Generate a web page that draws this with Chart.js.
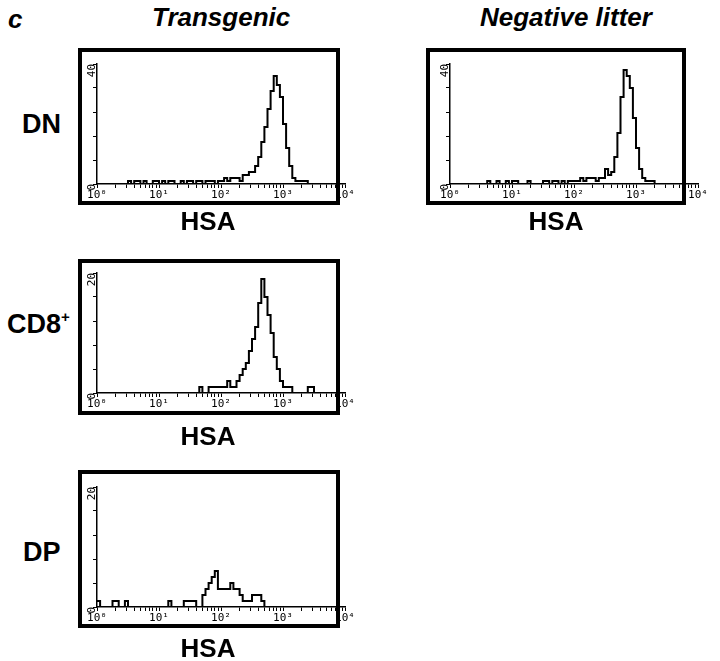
<!DOCTYPE html>
<html>
<head>
<meta charset="utf-8">
<script src="https://cdn.jsdelivr.net/npm/chart.js@4"></script>
<style>
  body { margin: 0; background: #fff; width: 720px; height: 661px; position: relative; overflow: hidden;
         font-family: "Liberation Sans", Arial, sans-serif; }
  .t { position: absolute; font-weight: bold; color: #000; white-space: nowrap; line-height: 1; }
  .it { font-style: italic; font-size: 26px; }
  .row { font-size: 27px; }
  .hsa { font-size: 26px; width: 120px; text-align: center; }
  .box { position: absolute; border: 4px solid #000; box-sizing: border-box; pointer-events: none; }
  canvas { position: absolute; }
</style>
</head>
<body>
<div class="t it" style="left:8px;top:6px">c</div>
<div class="t it" style="left:152px;top:4px">Transgenic</div>
<div class="t it" style="left:480px;top:4px">Negative litter</div>

<div class="t row" style="left:22px;top:111px">DN</div>
<div class="t row" style="left:7px;top:309px">CD8<sup style="font-size:15px;vertical-align:11px">+</sup></div>
<div class="t row" style="left:23px;top:539px">DP</div>

<canvas id="p1" width="290" height="170" style="left:78px;top:48px"></canvas>
<canvas id="p2" width="290" height="170" style="left:431px;top:48px"></canvas>
<canvas id="p3" width="290" height="170" style="left:78px;top:257px"></canvas>
<canvas id="p4" width="290" height="170" style="left:78px;top:471px"></canvas>

<div class="box" style="left:78px;top:48px;width:262px;height:157px"></div>
<div class="box" style="left:426px;top:48px;width:260px;height:157px"></div>
<div class="box" style="left:78px;top:259px;width:262px;height:156px"></div>
<div class="box" style="left:78px;top:470px;width:262px;height:158px"></div>

<div class="t hsa" style="left:148px;top:208px">HSA</div>
<div class="t hsa" style="left:496px;top:208px">HSA</div>
<div class="t hsa" style="left:148px;top:423px">HSA</div>
<div class="t hsa" style="left:148px;top:635px">HSA</div>

<script>
// x axis: 4 decades of HSA fluorescence, one channel = 0.05 decade
const decadeLabels = ['10⁰', '10¹', '10²', '10³', '10⁴'];
const binWidth = 0.05;

// cell counts per channel (81 channel edges, 0 .. 4 decades)
const dnTransgenic = [
  0,0,0,0,0,0,0,0,0,0,
  1,0,1,1,0,1,0,0,1,1,
  0,1,0,1,1,0,0,1,0,1,
  1,0,1,1,0,1,1,1,0,1,
  1,2,1,2,2,2,1,3,3,4,
  4,6,9,14,19,25,31,36,33,29,
  20,12,6,2,1,1,1,1,0,0,
  0,0,0,0,0,0,0,0,0,0,0
];
const dnNegative = [
  0,0,0,0,0,0,0,0,0,0,
  0,0,1,0,0,1,0,0,1,0,
  1,1,0,0,0,1,0,0,0,0,
  1,1,0,1,1,0,1,0,1,1,
  1,1,2,1,2,2,2,1,2,2,
  5,3,4,9,17,29,38,36,32,22,
  12,5,2,1,1,1,0,0,0,0,
  0,0,0,0,0,0,0,0,0,0,0
];
const cd8Transgenic = [
  0,0,0,0,0,0,0,0,0,0,
  0,0,0,0,0,0,0,0,0,0,
  0,0,0,0,0,0,0,0,0,0,
  0,0,0,1,0,0,1,1,1,1,
  1,1,2,1,1,2,3,4,5,7,
  9,11,15,19,16,13,10,6,4,2,
  1,1,1,0,0,0,0,0,1,1,
  0,0,0,0,0,0,0,0,0,0,0
];
const dpTransgenic = [
  1,0,0,0,0,1,1,0,0,1,
  0,0,0,0,0,0,0,0,0,0,
  0,0,0,1,0,0,0,0,1,1,
  1,1,0,0,2,3,4,5,6,3,
  3,3,3,4,3,3,2,1,1,1,
  2,2,2,1,0,0,0,0,0,0,
  0,0,0,0,0,0,0,0,0,0,
  0,0,0,0,0,0,0,0,0,0,0
];

// minor log ticks 1..9 in each decade
const logTicks = [];
for (let d = 0; d < 4; d++) {
  for (let k = 1; k < 10; k++) logTicks.push(d + Math.log10(k));
}
logTicks.push(4);

const mono = { family: 'DejaVu Sans Mono', size: 11 };

function histogram(id, counts, yMax) {
  const pts = counts.map((c, i) => ({ x: i * binWidth, y: c }));
  return new Chart(document.getElementById(id), {
    type: 'line',
    data: {
      datasets: [{
        data: pts,
        stepped: true,
        borderColor: '#000',
        borderWidth: 2,
        pointRadius: 0,
        fill: false
      }]
    },
    options: {
      responsive: false,
      animation: false,
      layout: { padding: { top: 16, right: 23, left: 0, bottom: 0 } },
      plugins: { legend: { display: false }, tooltip: { enabled: false } },
      scales: {
        x: {
          type: 'linear', min: 0, max: 4,
          afterBuildTicks: s => { s.ticks = logTicks.map(v => ({ value: v })); },
          afterFit: s => { s.height = 34; },
          ticks: {
            autoSkip: false, maxRotation: 0, minRotation: 0, padding: 1,
            color: '#000', font: mono,
            callback: v => Number.isInteger(v) ? decadeLabels[v] : ''
          },
          grid: { drawOnChartArea: false, drawTicks: true, tickLength: 4, color: '#000' },
          border: { color: '#000', width: 1.5 }
        },
        y: {
          min: 0, max: yMax,
          afterFit: s => { s.width = 19; },
          ticks: {
            stepSize: yMax / 10, minRotation: 90, maxRotation: 90, padding: 1,
            color: '#000', font: mono,
            callback: v => (v === 0 || v === yMax) ? String(v) : ''
          },
          grid: { drawOnChartArea: false, drawTicks: true, tickLength: 4, color: '#000' },
          border: { color: '#000', width: 1.5 }
        }
      }
    }
  });
}

histogram('p1', dnTransgenic, 40);
histogram('p2', dnNegative, 40);
histogram('p3', cd8Transgenic, 20);
histogram('p4', dpTransgenic, 20);
</script>
</body>
</html>
